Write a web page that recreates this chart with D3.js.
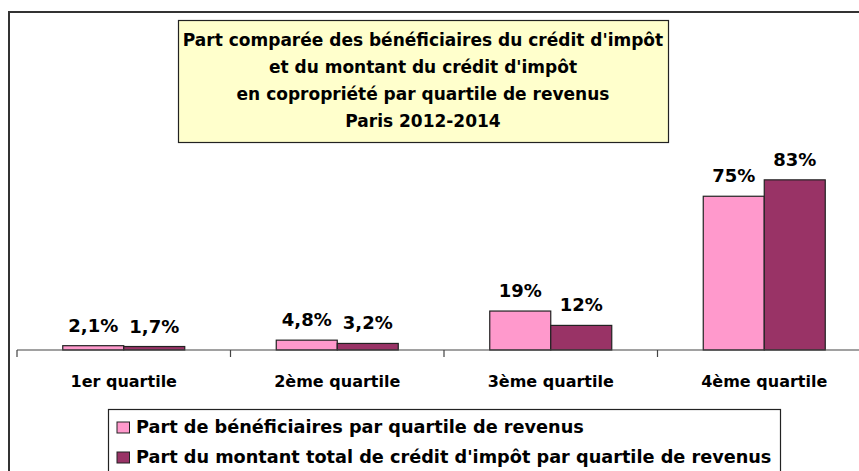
<!DOCTYPE html>
<html>
<head>
<meta charset="utf-8">
<script src="https://cdn.jsdelivr.net/npm/d3@7"></script>
<style>
  body { margin: 0; background: #fff; }
  text { font-family: "DejaVu Sans", sans-serif; font-weight: bold; fill: #000; }
</style>
</head>
<body>
<div id="chart"></div>
<script>
const categories = ["1er quartile", "2ème quartile", "3ème quartile", "4ème quartile"];
const seriesNames = [
  "Part de bénéficiaires par quartile de revenus",
  "Part du montant total de crédit d'impôt par quartile de revenus"
];
const beneficiaires = [2.1, 4.8, 19, 75];
const montant = [1.7, 3.2, 12, 83];
const valueLabels = [
  ["2,1%", "4,8%", "19%", "75%"],
  ["1,7%", "3,2%", "12%", "83%"]
];
const titleLines = [
  "Part comparée des bénéficiaires du crédit d'impôt",
  "et du montant du crédit d'impôt",
  "en copropriété par quartile de revenus",
  "Paris 2012-2014"
];
const colors = ["#ff99cc", "#993366"];

const W = 859, H = 471;
const svg = d3.select("#chart").append("svg")
  .attr("width", W)
  .attr("height", H);

// outer chart frame (cropped on the right and bottom)
svg.append("path")
  .attr("d", `M9,${H + 5}V12H${W + 5}`)
  .attr("fill", "none")
  .attr("stroke", "#333")
  .attr("stroke-width", 2);

const baseY = 350;
const x0 = d3.scaleBand().domain(categories).range([17, 17 + 4 * 213.5]);
// the bar pair takes ~57% of the category width
const x1 = d3.scaleBand().domain([0, 1])
  .range([x0.bandwidth() / 2 - 61, x0.bandwidth() / 2 + 61]);
const y = d3.scaleLinear().domain([0, 100]).range([baseY, 145]);

const data = [beneficiaires, montant];

const groups = svg.selectAll("g.cat")
  .data(categories)
  .join("g")
  .attr("class", "cat")
  .attr("transform", d => `translate(${x0(d)},0)`);

groups.selectAll("rect")
  .data((d, i) => [0, 1].map(s => ({ s, v: data[s][i] })))
  .join("rect")
  .attr("x", d => x1(d.s))
  .attr("width", x1.bandwidth())
  .attr("y", d => y(d.v))
  .attr("height", d => baseY - y(d.v))
  .attr("fill", d => colors[d.s])
  .attr("stroke", "#222")
  .attr("stroke-width", 1.2);

groups.selectAll("text.val")
  .data((d, i) => [0, 1].map(s => ({ s, v: data[s][i], label: valueLabels[s][i] })))
  .join("text")
  .attr("class", "val")
  .attr("x", d => x1(d.s) + x1.bandwidth() / 2)
  .attr("y", d => y(d.v) - 14)
  .attr("text-anchor", "middle")
  .style("font-size", "18px")
  .text(d => d.label);

// x axis
const xAxis = svg.append("g")
  .attr("transform", `translate(0,${baseY})`);
xAxis.append("line")
  .attr("x1", 17).attr("x2", W)
  .attr("stroke", "#444").attr("stroke-width", 1.2);
xAxis.selectAll("line.tick")
  .data(d3.range(5))
  .join("line")
  .attr("class", "tick")
  .attr("x1", i => 17 + i * x0.step())
  .attr("x2", i => 17 + i * x0.step())
  .attr("y1", 0).attr("y2", 7)
  .attr("stroke", "#444").attr("stroke-width", 1.2);
xAxis.selectAll("text")
  .data(categories)
  .join("text")
  .attr("x", d => x0(d) + x0.bandwidth() / 2)
  .attr("y", 37)
  .attr("text-anchor", "middle")
  .style("font-size", "16px")
  .text(d => d);

// title box
svg.append("rect")
  .attr("x", 178.5).attr("y", 20.5)
  .attr("width", 490).attr("height", 122)
  .attr("fill", "#ffffcc")
  .attr("stroke", "#222")
  .attr("stroke-width", 1.2);
svg.selectAll("text.title")
  .data(titleLines)
  .join("text")
  .attr("class", "title")
  .attr("x", 423)
  .attr("y", (d, i) => 45.5 + i * 27.3)
  .attr("text-anchor", "middle")
  .style("font-size", "17px")
  .text(d => d);

// legend
const legend = svg.append("g");
legend.append("rect")
  .attr("x", 108.5).attr("y", 409.5)
  .attr("width", 672).attr("height", 80)
  .attr("fill", "#fff")
  .attr("stroke", "#222")
  .attr("stroke-width", 1.2);
const items = legend.selectAll("g.item")
  .data(seriesNames)
  .join("g")
  .attr("class", "item")
  .attr("transform", (d, i) => `translate(117,${422 + i * 30})`);
items.append("rect")
  .attr("width", 12.5).attr("height", 11)
  .attr("fill", (d, i) => colors[i])
  .attr("stroke", "#222")
  .attr("stroke-width", 1);
items.append("text")
  .attr("x", 19)
  .attr("y", 11)
  .style("font-size", "17.7px")
  .text(d => d);
</script>
</body>
</html>
